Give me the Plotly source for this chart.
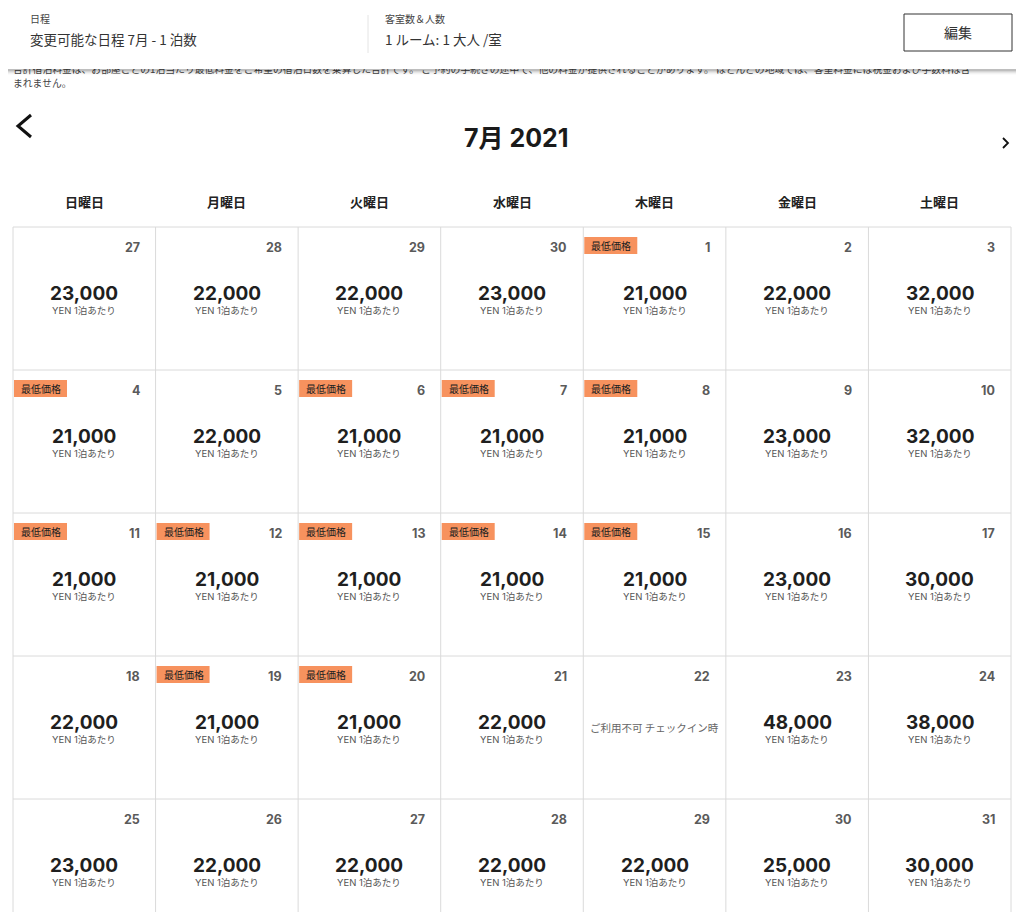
import plotly.graph_objects as go

# calendar data (July 2021, first row starts with June 27-30)
days = [27, 28, 29, 30, 1, 2, 3,
        4, 5, 6, 7, 8, 9, 10,
        11, 12, 13, 14, 15, 16, 17,
        18, 19, 20, 21, 22, 23, 24,
        25, 26, 27, 28, 29, 30, 31]
prices = [23000, 22000, 22000, 23000, 21000, 22000, 32000,
          21000, 22000, 21000, 21000, 21000, 23000, 32000,
          21000, 21000, 21000, 21000, 21000, 23000, 30000,
          22000, 21000, 21000, 22000, None, 48000, 38000,
          23000, 22000, 22000, 22000, 22000, 25000, 30000]
lowest = [0, 0, 0, 0, 1, 0, 0,
          1, 0, 1, 1, 1, 0, 0,
          1, 1, 1, 1, 1, 0, 0,
          0, 1, 1, 0, 0, 0, 0,
          0, 0, 0, 0, 0, 0, 0]
weekdays = ["日曜日", "月曜日", "火曜日", "水曜日", "木曜日", "金曜日", "土曜日"]

FONT = "Inter, Noto Sans CJK JP, sans-serif"
JP = "Noto Sans CJK JP, sans-serif"
W, H = 1024, 912
PAD = 8  # page body margin; axis ranges start here so data units equal page pixels
X0, Y0 = 13, 227
CW, CH = (1011 - 13) / 7, 143
GRID = "#dadada"
BADGE = "#f7925e"

fig = go.Figure()
shapes = []
ann = []

def text(x, y, s, size, color="#222", bold=False, xanchor="center", font=FONT):
    if bold:
        s = "<b>" + s + "</b>"
    ann.append(dict(x=x, y=y, text=s, showarrow=False, xanchor=xanchor, yanchor="middle",
                    font=dict(size=size, color=color, family=font)))

# notice line partly hidden under the header (drawn as a trace so the header covers it)
fig.add_trace(go.Scatter(
    x=[13, 13], y=[71, 85], mode="text", textposition="middle right",
    text=["合計宿泊料金は、お部屋ごとの1泊当たり最低料金をご希望の宿泊日数を乗算した合計です。 ご予約の手続きの途中で、他の料金が提供されることがあります。 ほとんどの地域では、客室料金には税金および手数料は含",
          "まれません。"],
    textfont=dict(size=9.8, color="#444", family=JP), hoverinfo="skip", showlegend=False))

# header band with shadow
for i, a in enumerate([0.10, 0.07, 0.05, 0.03, 0.015]):
    shapes.append(dict(type="rect", x0=0, x1=W, y0=69, y1=71 + i, fillcolor=f"rgba(0,0,0,{a})",
                       line_width=0, layer="above"))
shapes.append(dict(type="rect", x0=0, x1=W, y0=0, y1=69, fillcolor="white", line_width=0, layer="above"))
shapes.append(dict(type="line", x0=368, x1=368, y0=15, y1=53, line=dict(color="#e4e4e4", width=1), layer="above"))
shapes.append(dict(type="rect", x0=904, x1=1012, y0=14, y1=51, line=dict(color="#333", width=1), layer="above"))
text(28, 18, "日程", 10, "#444", xanchor="left", font=JP)
text(28, 39, "変更可能な日程 7月 - 1 泊数", 13.5, "#333", xanchor="left", font=JP)
text(383, 18, "客室数＆人数", 10, "#444", xanchor="left", font=JP)
text(383, 39, "1 ルーム: 1 大人 /室", 13.5, "#333", xanchor="left", font=JP)
text(958, 32, "編集", 14, "#333", font=JP)

# month navigation
shapes.append(dict(type="path", path="M 31 115 L 18 126 L 31 137", line=dict(color="#111", width=3)))
shapes.append(dict(type="path", path="M 1003 138 L 1008 143 L 1003 148", line=dict(color="#111", width=1.8)))
text(516, 138, "7月 2021", 25, "#1a1a1a", bold=True)

# weekday headers
for c, wd in enumerate(weekdays):
    text(X0 + (c + 0.5) * CW, 201, wd, 13, "#222", bold=True, font=JP)

# grid
nrows = len(days) // 7
for c in range(8):
    shapes.append(dict(type="line", x0=X0 + c * CW, x1=X0 + c * CW, y0=Y0, y1=H,
                       line=dict(color=GRID, width=1)))
for r in range(nrows + 1):
    shapes.append(dict(type="line", x0=X0, x1=X0 + 7 * CW, y0=Y0 + r * CH, y1=Y0 + r * CH,
                       line=dict(color=GRID, width=1)))

# cells
for i, (d, p, lo) in enumerate(zip(days, prices, lowest)):
    r, c = divmod(i, 7)
    left, top = X0 + c * CW, Y0 + r * CH
    cx = left + CW / 2
    text(left + CW - 14, top + 20, str(d), 12.5, "#5a5a5a", bold=True, xanchor="right")
    if lo:
        shapes.append(dict(type="rect", x0=left + 1, x1=left + 54, y0=top + 10, y1=top + 27,
                           fillcolor=BADGE, line_width=0))
        text(left + 6, top + 18, "最低価格", 10, "#222", xanchor="left", font=JP)
    if p is None:
        text(cx, top + 71, "ご利用不可 チェックイン時", 10.5, "#666", font=JP)
    else:
        text(cx, top + 66, f"{p:,}", 19, "#1f1f1f", bold=True)
        text(cx, top + 83, "YEN 1泊あたり", 9.5, "#555")

fig.update_layout(
    width=W - PAD, height=H - PAD, margin=dict(l=0, r=0, t=0, b=0),
    paper_bgcolor="white", plot_bgcolor="white",
    xaxis=dict(range=[PAD, W], visible=False, fixedrange=True),
    yaxis=dict(range=[H, PAD], visible=False, fixedrange=True),
    shapes=shapes, annotations=ann, showlegend=False)

fig.write_html("out.html")
